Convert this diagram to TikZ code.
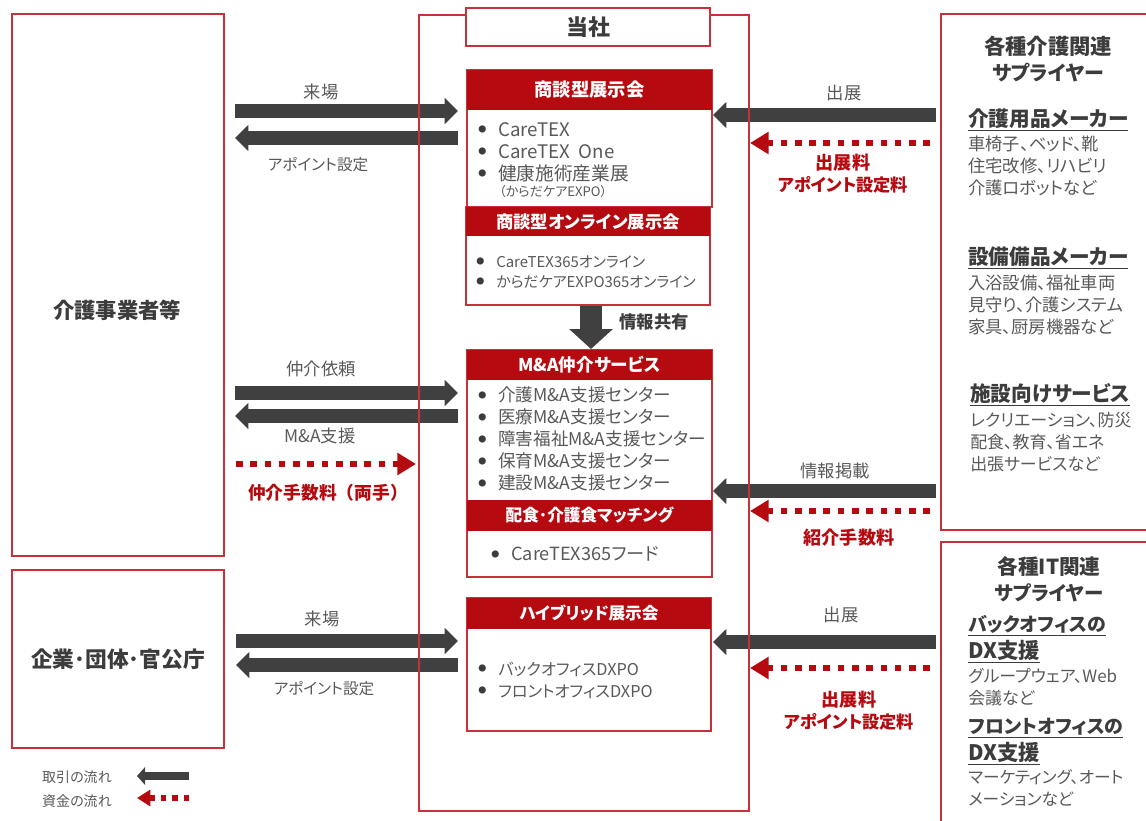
\documentclass[tikz,border=0pt]{standalone}
\usepackage{fontspec}
\setmainfont[RawFeature={+palt}]{Noto Sans CJK JP}
\newfontfamily\fullw{Noto Sans CJK JP}
\usetikzlibrary{arrows.meta}
\definecolor{rd}{HTML}{B50A10}
\definecolor{frame}{HTML}{C5323A}
\definecolor{ar}{HTML}{404040}
\definecolor{tx}{HTML}{595959}
\definecolor{hd}{HTML}{3C3C3C}
\newcommand{\fs}[2]{\fontsize{#1}{#2}\selectfont}
\newcommand{\li}[1]{\makebox[15pt][l]{\raisebox{2.4pt}{\textcolor{hd}{\fs{6}{6}●}}}#1}
\newcommand{\ul}[1]{\underline{#1}}
\newcommand{\dn}[1]{\raisebox{-0.75pt}{#1}}
% \rbox{name}{x1}{y1}{x2}{y2}{style}{text}
\newcommand{\rbox}[7]{\node[#6,minimum width={(#4-#2)*0.75pt},minimum height={(#5-#3)*0.75pt}] (#1) at ({(#2+#4)/2},{(#3+#5)/2}) {#7};}
\tikzset{
  x=0.75pt,y=-0.75pt,
  redbox/.style={draw=frame,line width=1.5pt,fill=white,inner sep=0pt,text=hd},
  header/.style={fill=rd,inner sep=0pt,text=white,font=\bfseries\fs{13.7}{16}},
  flow/.style={draw=ar,line width=10.5pt,-{Triangle[length=10pt,width=19pt]}},
  money/.style={draw=rd,line width=5pt,dash pattern=on 5pt off 5.7pt,
    -{Triangle[length=14pt,width=16pt]}},
  lab/.style={inner sep=0pt,text=tx,font=\fs{13}{15}},
  redlab/.style={inner sep=0pt,text=rd,align=center,font=\bfseries\fs{13.6}{16.5}},
  lst/.style={inner sep=0pt,anchor=west,align=left,text=tx},
  head/.style={inner sep=0pt,text=hd,align=center,font=\bfseries\fs{16}{20}},
  sub/.style={inner sep=0pt,anchor=west,text=hd,align=left,font=\bfseries\fs{15.5}{20}},
  desc/.style={inner sep=0pt,anchor=west,text=tx,align=left,font=\fs{13}{16.5}},
}
\begin{document}
\begin{tikzpicture}
\useasboundingbox[fill=white] (0,0) rectangle (1146,821);
% outer boxes
\rbox{care}{12}{14}{224}{556}{redbox}{}
\node[inner sep=0pt,text=hd,font=\bfseries\fs{16}{20}] (careT) at (117,310) {介護事業者等};
\rbox{corp}{12}{570}{224}{748}{redbox,font=\bfseries\fs{16.3}{20}}{企業･団体･官公庁}
\begin{scope}
\clip (0,0) rectangle (1146,821);
\rbox{supA}{941}{14}{1160}{530}{redbox}{}
\rbox{supB}{941}{542}{1160}{835}{redbox}{}
\end{scope}
% flow coordinates
\coordinate (a1s) at (235,111);  \coordinate (a1e) at (458,111);
\coordinate (a2s) at (458,138);  \coordinate (a2e) at (235,138);
\coordinate (a3s) at (235,393);  \coordinate (a3e) at (458,393);
\coordinate (a4s) at (458,416);  \coordinate (a4e) at (235,416);
\coordinate (a5s) at (236,464);  \coordinate (a5e) at (416,464);
\coordinate (a6s) at (236,641);  \coordinate (a6e) at (458,641);
\coordinate (a7s) at (458,665);  \coordinate (a7e) at (236,665);
\coordinate (b1s) at (936,115);  \coordinate (b1e) at (713,115);
\coordinate (b2s) at (930,143);  \coordinate (b2e) at (750,143);
\coordinate (b3s) at (936,491);  \coordinate (b3e) at (713,491);
\coordinate (b4s) at (930,511);  \coordinate (b4e) at (750,511);
\coordinate (b5s) at (936,642);  \coordinate (b5e) at (713,642);
\coordinate (b6s) at (930,668);  \coordinate (b6e) at (750,668);
\coordinate (l1s) at (189,776);  \coordinate (l1e) at (137,776);
\coordinate (l2s) at (189,798);  \coordinate (l2e) at (137,798);
\foreach \p in {a1,a2,a3,a4,a6,a7,b1,b3,b5} \draw[flow] (\p s) -- (\p e);
\foreach \p in {a5,b2,b4,b6} \draw[money] (\p s) -- (\p e);
\draw[draw=ar,line width=6.5pt,-{Triangle[length=6pt,width=13pt]}] (l1s) -- (l1e);
\draw[draw=rd,line width=4pt,dash pattern=on 4pt off 4.5pt,-{Triangle[length=10pt,width=12pt]}] (l2s) -- (l2e);
% company frame (runs over the arrows)
\rbox{co}{419}{15}{749}{811}{draw=frame,line width=1.5pt,inner sep=0pt}{}
\rbox{cot}{466}{8}{710}{46}{redbox,font=\bfseries\fs{16.5}{20}}{当社}
% expo
\rbox{expoB}{467}{70}{712}{207}{redbox}{}
\rbox{expoH}{467}{70}{712}{110}{header}{\dn{商談型展示会}}
\node[lst,font=\fs{14}{16.5}] (expoL) at (478,152) {\li{CareTEX}\\\li{CareTEX\ \ One}\\\li{健康施術産業展}};
\node[inner sep=0pt,anchor=west,text=tx,font=\fs{9.8}{12}] (expoS) at (499,192) {（からだケアEXPO）};
% online
\rbox{onB}{466}{207}{710}{305}{redbox}{}
\rbox{onH}{466}{207}{710}{236}{header,font=\bfseries\fs{13}{16}}{\dn{商談型オンライン展示会}}
\node[lst,font=\fs{11.2}{15}] (onL) at (476,272) {\li{CareTEX365オンライン}\\\li{からだケアEXPO365オンライン}};
% M&A
\rbox{maB}{467}{350}{712}{577}{redbox}{}
\rbox{maH}{467}{350}{712}{380}{header,font=\bfseries\fs{13.2}{16}}{\dn{M\&A仲介サービス}}
\node[lst,font=\fs{13.2}{16.6}] (maL) at (478,439) {\li{介護M\&A支援センター}\\\li{医療M\&A支援センター}\\\li{障害福祉M\&A支援センター}\\\li{保育M\&A支援センター}\\\li{建設M\&A支援センター}};
\rbox{foH}{467}{500}{712}{531}{header,font=\bfseries\fs{12.5}{16}}{\dn{配食･介護食マッチング}}
\node[lst,font=\fs{13.6}{16}] (foL) at (491,554) {\li{CareTEX365フード}};
% hybrid
\rbox{hyB}{467}{598}{711}{731}{redbox}{}
\rbox{hyH}{467}{598}{711}{629}{header,font=\bfseries\fs{12.5}{16}}{\dn{ハイブリッド展示会}}
\node[lst,font=\fs{12.2}{16.5}] (hyL) at (478,680) {\li{バックオフィスDXPO}\\\li{フロントオフィスDXPO}};
% information sharing arrow
\draw[draw=ar,line width=16pt,-{Triangle[length=15pt,width=32pt]}] (onB.south -| 591,0) -- (maB.north -| 591,0);
\node[inner sep=0pt,text=hd,font=\bfseries\fs{13}{15}] (share) at (654,322) {情報共有};
% arrow labels
\node[lab] (t1) at (321,92) {来場};
\node[lab,font=\fs{11.7}{15}] (t2) at (318,165) {アポイント設定};
\node[lab] (t3) at (321,369) {仲介依頼};
\node[lab] (t4) at (320,436) {M\&A支援};
\node[redlab,font=\bfseries\fullw\fs{13.3}{16.5}] (t5) at (328,493) {仲介手数料（両手）};
\node[lab] (t6) at (322,619) {来場};
\node[lab,font=\fs{11.7}{15}] (t7) at (324,689) {アポイント設定};
\node[lab] (t8) at (844,93) {出展};
\node[redlab] (t9) at (843,174) {出展料\\\fs{12.9}{16.5}アポイント設定料};
\node[lab] (t10) at (835,471) {情報掲載};
\node[redlab] (t11) at (849,538) {紹介手数料};
\node[lab] (t12) at (841,615) {出展};
\node[redlab] (t13) at (849,711) {出展料\\\fs{12.9}{16.5}アポイント設定料};
\node[lab,font=\fs{10.5}{13}] (t14) at (77,777) {取引の流れ};
\node[lab,font=\fs{10.5}{13}] (t15) at (77,801) {資金の流れ};
% supplier text
\node[head] (hA) at (1048,59) {各種介護関連\\\fs{15}{20}サプライヤー};
\node[sub] (s1) at (968,120) {\ul{介護用品メーカー}};
\node[desc] (d1) at (968,166) {車椅子、ベッド、靴\\住宅改修、リハビリ\\介護ロボットなど};
\node[sub] (s2) at (968,258) {\ul{設備備品メーカー}};
\node[desc] (d2) at (968,305) {入浴設備、福祉車両\\見守り、介護システム\\家具、厨房機器など};
\node[sub] (s3) at (970,395) {\ul{施設向けサービス}};
\node[desc,font=\fs{12.7}{16.5}] (d3) at (970,442) {レクリエーション、防災\\配食、教育、省エネ\\出張サービスなど};
\node[head,font=\bfseries\fs{15.5}{19.5}] (hB) at (1049,579) {各種IT関連\\\fs{14.6}{19.5}サプライヤー};
\node[sub,font=\bfseries\fs{14.2}{20}] (s4) at (968,639.5) {\ul{バックオフィスの}\\\fs{16}{20}\ul{DX支援}};
\node[desc,font=\fs{12.7}{16.5}] (d4) at (968,687) {グループウェア、Web\\会議など};
\node[sub,font=\bfseries\fs{14.2}{20}] (s5) at (968,741.5) {\ul{フロントオフィスの}\\\fs{16}{20}\ul{DX支援}};
\node[desc,font=\fs{12.5}{16.5}] (d5) at (968,788) {マーケティング、オート\\メーションなど};
\end{tikzpicture}
\end{document}
